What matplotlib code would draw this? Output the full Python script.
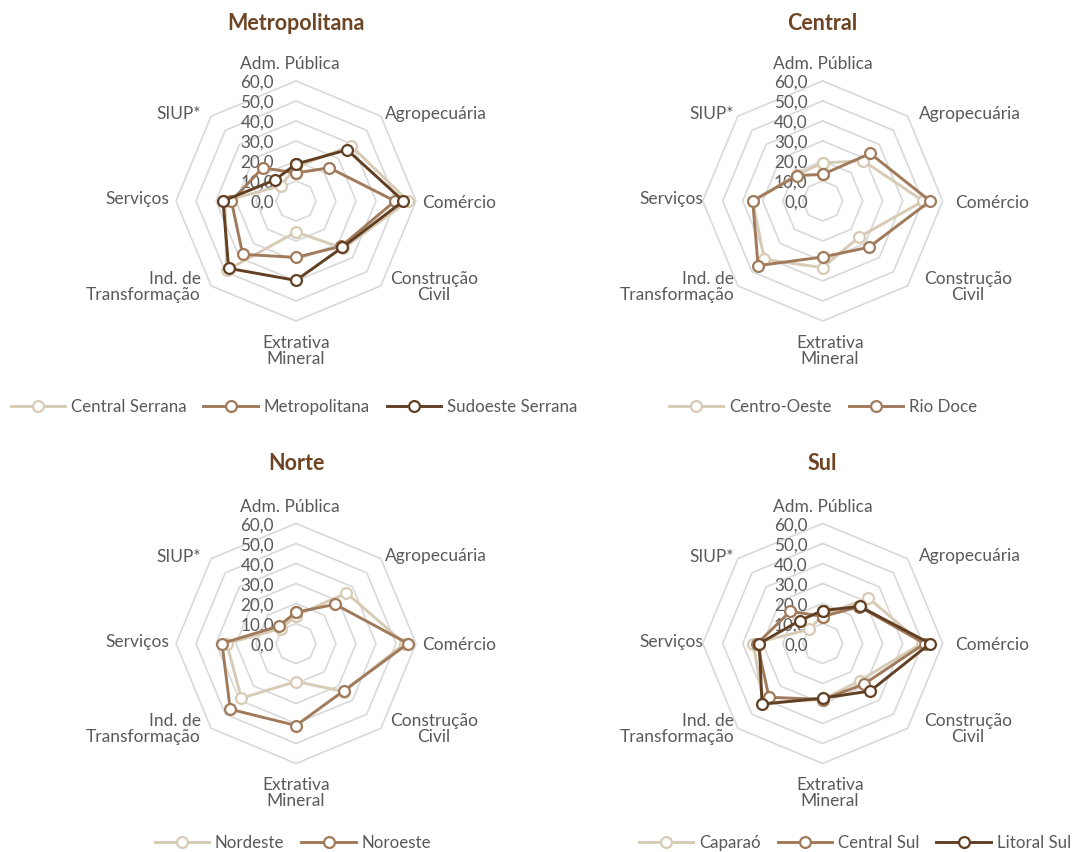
import numpy as np
import matplotlib
matplotlib.use("Agg")
import matplotlib.pyplot as plt
from matplotlib.transforms import offset_copy

plt.rcParams['font.family'] = ['Lato', 'DejaVu Sans']

# Sectors (clockwise from the top)
categories = ["Adm. Pública", "Agropecuária", "Comércio", "Construção\nCivil",
              "Extrativa\nMineral", "Ind. de\nTransformação", "Serviços", "SIUP*"]
ring_levels = [0, 10, 20, 30, 40, 50, 60]
ring_labels = ["0,0", "10,0", "20,0", "30,0", "40,0", "50,0", "60,0"]

# Metropolitana
central_serrana = [17.0, 39.0, 56.0, 33.5, 15.5, 49.0, 35.5, 10.8]
metropolitana = [14.0, 23.5, 49.5, 32.0, 28.2, 37.7, 32.3, 23.5]
sudoeste_serrana = [18.5, 36.2, 53.7, 32.8, 39.7, 47.6, 36.5, 14.9]

# Central
centro_oeste = [19.0, 28.5, 50.3, 25.6, 33.3, 41.3, 35.0, 18.5]
rio_doce = [13.3, 33.6, 53.7, 32.7, 28.0, 45.7, 35.0, 18.0]

# Norte
nordeste = [14.0, 35.7, 54.3, 34.0, 19.0, 38.7, 34.6, 10.6]
noroeste = [15.6, 27.7, 56.0, 33.6, 41.0, 46.5, 37.0, 12.3]

# Sul
caparao = [14.0, 32.3, 49.5, 26.3, 28.0, 42.0, 34.7, 9.9]
central_sul = [13.5, 26.0, 51.0, 28.9, 28.0, 38.0, 32.7, 22.8]
litoral_sul = [16.5, 26.2, 53.7, 33.6, 27.3, 42.9, 31.7, 16.2]

LIGHT, MID, DARK = "#d8cbb5", "#a07a5b", "#613f22"
TITLE_C = "#6e4524"
TEXT_C = "#595959"
GRID_C = "#d9d9d9"

W, H = 1080, 853
R_PX = 120  # pixel radius of the 60,0 ring

fig = plt.figure(figsize=(W / 100, H / 100), dpi=100)
fig.patch.set_facecolor("white")

# label placement relative to the centre (pixels, y downwards)
label_pos = [
    (-6.4, -137.7, "center"),
    (89.0, -88.0, "left"),
    (125.7, 1.0, "left"),
    (138.0, 84.7, "center"),
    (0.0, 148.5, "center"),
    (-95.3, 84.7, "right"),
    (-126.7, -2.7, "right"),
    (-95.3, -88.0, "right"),
]

panels = [
    dict(title="Metropolitana", cx=296, cy=202, ty=23, shift=0, leg_x=294, leg_y=407.5,
         names=["Central Serrana", "Metropolitana", "Sudoeste Serrana"],
         series=[central_serrana, metropolitana, sudoeste_serrana],
         colors=[LIGHT, MID, DARK]),
    dict(title="Central", cx=822.7, cy=202, ty=23, shift=7, leg_x=823, leg_y=407.5,
         names=["Centro-Oeste", "Rio Doce"],
         series=[centro_oeste, rio_doce],
         colors=[LIGHT, MID]),
    dict(title="Norte", cx=296, cy=644.5, ty=464, shift=0, leg_x=293, leg_y=843.5,
         names=["Nordeste", "Noroeste"],
         series=[nordeste, noroeste],
         colors=[LIGHT, MID]),
    dict(title="Sul", cx=822.7, cy=644.5, ty=464, shift=7, leg_x=855, leg_y=843.5,
         names=["Caparaó", "Central Sul", "Litoral Sul"],
         series=[caparao, central_sul, litoral_sul],
         colors=[LIGHT, MID, DARK]),
]

n = len(categories)
theta = np.linspace(0, 2 * np.pi, n, endpoint=False)
theta_closed = np.append(theta, theta[0])

for p in panels:
    cx, cy = p["cx"], p["cy"]
    ax = fig.add_axes([(cx - R_PX) / W, 1 - (cy + R_PX) / H, 2 * R_PX / W, 2 * R_PX / H],
                      projection="polar")
    ax.set_theta_zero_location("N")
    ax.set_theta_direction(-1)
    ax.set_ylim(0, 60)
    ax.set_axis_off()

    # octagonal grid rings
    for lvl in ring_levels[1:]:
        ax.plot(theta_closed, [lvl] * (n + 1), color=GRID_C, lw=1.2, zorder=1, clip_on=False)

    # radial value labels
    tr = offset_copy(ax.transData, fig=fig, x=-22 + p["shift"], y=-1, units="dots")
    for lvl, lab in zip(ring_levels, ring_labels):
        ax.text(0, lvl, lab, transform=tr, ha="right", va="center",
                fontsize=12.3, color=TEXT_C, zorder=2)

    # sector labels
    for cat, (dx, dy, ha) in zip(categories, label_pos):
        ax.text(0.5 + (dx + p["shift"]) / (2 * R_PX), 0.5 - dy / (2 * R_PX), cat,
                transform=ax.transAxes, ha=ha, va="center", multialignment=ha,
                fontsize=12.5, color=TEXT_C, linespacing=1.0, clip_on=False)

    # data series
    handles = []
    for vals, name, col in zip(p["series"], p["names"], p["colors"]):
        v = np.append(vals, vals[0])
        ln, = ax.plot(theta_closed, v, color=col, lw=2.1, marker="o", markersize=7.8,
                      markerfacecolor="white", markeredgecolor=col, markeredgewidth=1.6,
                      zorder=3, clip_on=False, label=name)
        handles.append(ln)

    fig.text(cx / W, 1 - p["ty"] / H, p["title"], ha="center", va="center",
             fontsize=15.5, fontweight="bold", color=TITLE_C)

    ax.legend(handles=handles, loc="center",
              bbox_to_anchor=(p["leg_x"] / W, 1 - p["leg_y"] / H),
              bbox_transform=fig.transFigure, ncol=len(handles), frameon=False,
              fontsize=12.2, handlelength=3.2, handletextpad=0.35, columnspacing=1.0,
              labelcolor=TEXT_C)

fig.savefig("out.png", dpi=100, facecolor="white")
